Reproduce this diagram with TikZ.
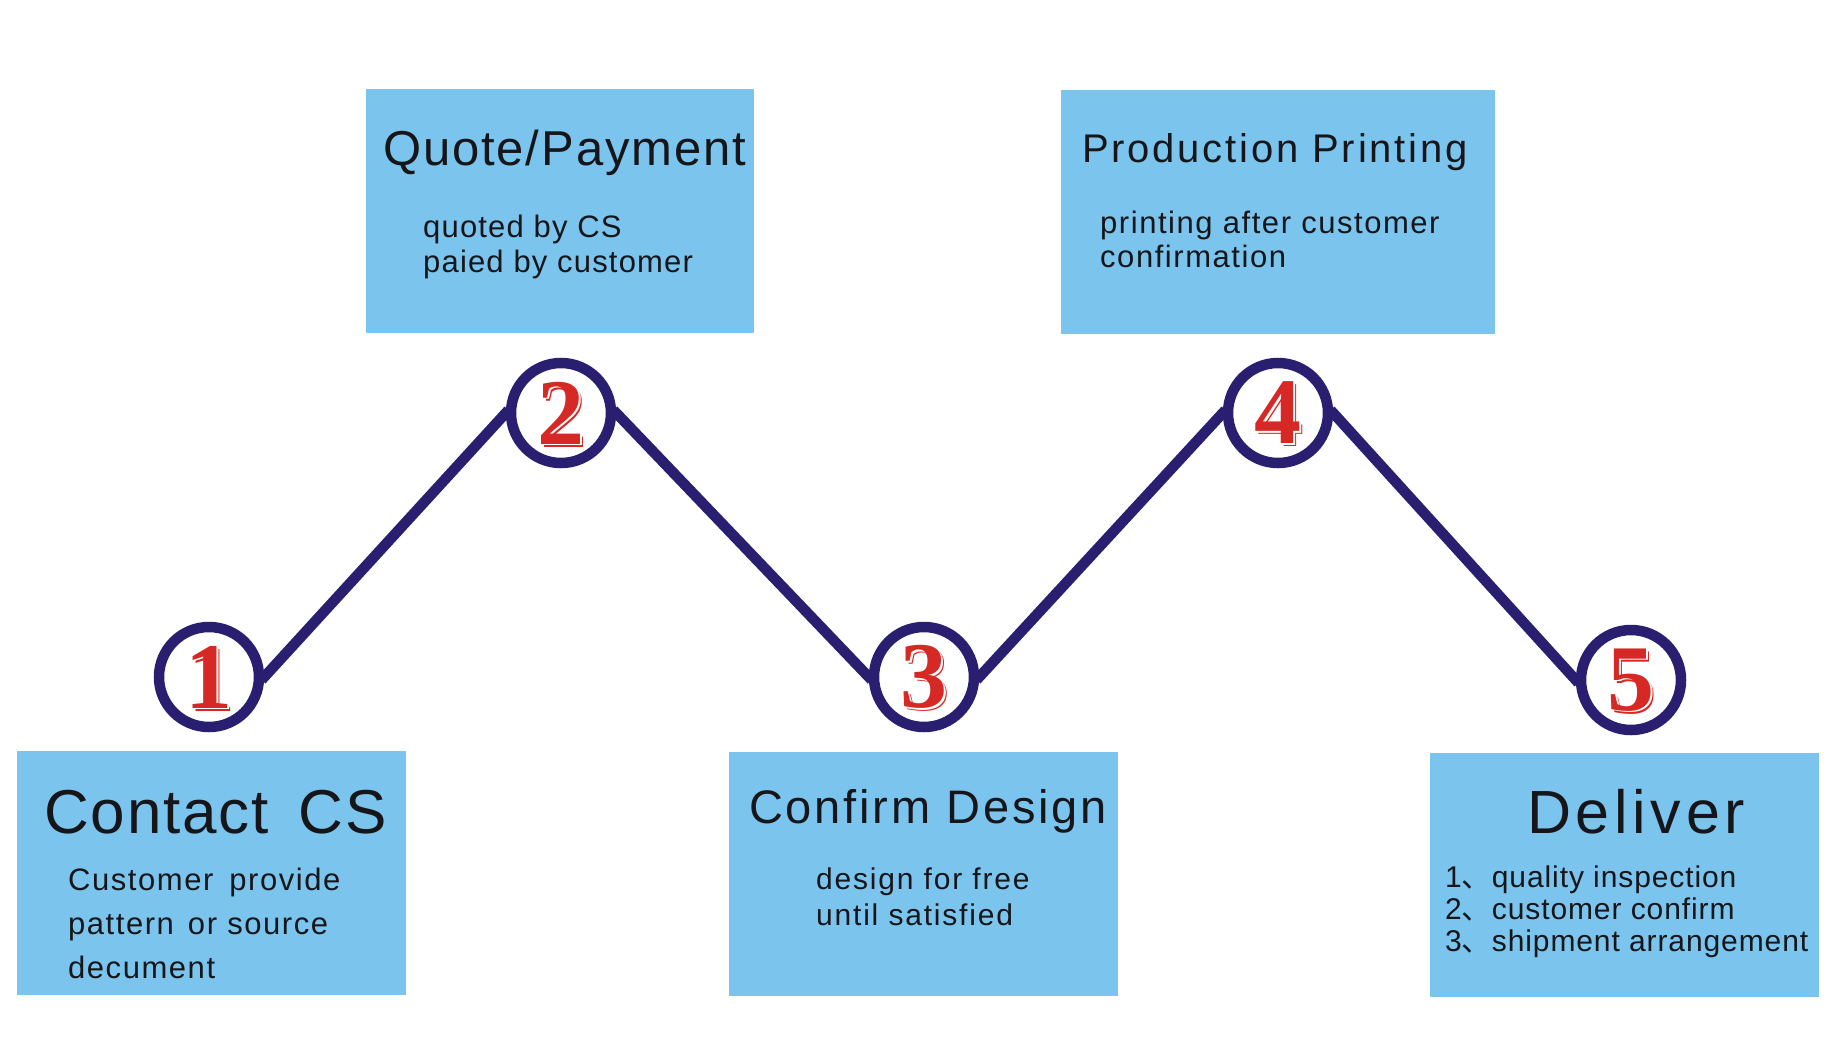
\documentclass[tikz,border=0pt]{standalone}
\usepackage{fontspec}
\setmainfont{Liberation Sans}
\newfontfamily\cjk{Noto Sans CJK SC}
\newfontfamily\digitfont{Liberation Serif}
\definecolor{boxblue}{RGB}{122,196,237}
\definecolor{navy}{RGB}{42,30,112}
\definecolor{digred}{RGB}{214,40,36}
\definecolor{txt}{RGB}{22,22,26}
\newcommand{\tsz}[2]{\fontsize{#1}{#1}\selectfont\addfontfeature{LetterSpace=#2}}
\begin{document}
\begin{tikzpicture}[x=1pt,y=-1pt,
  stepbox/.style={fill=boxblue, draw=none, anchor=north west, inner sep=0pt},
  ring/.style={circle, draw=navy, line width=10.5pt, fill=white, minimum size=100pt, inner sep=0pt},
  link/.style={draw=navy, line width=10.5pt, shorten <=-4pt, shorten >=-4pt},
  ttl/.style={anchor=base west, inner sep=0pt, text=txt},
  body/.style={anchor=base west, inner sep=0pt, text=txt},
]
\useasboundingbox (0,0) rectangle (1844,1044);
\fill[white] (0,0) rectangle (1844,1044);

% boxes
\node[stepbox, minimum width=389pt, minimum height=244pt] (b1) at (17,751) {};
\node[stepbox, minimum width=388pt, minimum height=244pt] (b2) at (366,89) {};
\node[stepbox, minimum width=389pt, minimum height=244pt] (b3) at (729,752) {};
\node[stepbox, minimum width=434pt, minimum height=244pt] (b4) at (1061,90) {};
\node[stepbox, minimum width=389pt, minimum height=244pt] (b5) at (1430,753) {};

% titles
\node[ttl] (t1) at (44,833) {\tsz{62}{3}Contact\hspace{30pt}CS};
\node[ttl] (t2) at (383,165) {\tsz{49}{3.8}Quote/Payment};
\node[ttl] (t3) at (749,823) {\tsz{47}{6}Confirm Design};
\node[ttl] (t4) at (1082,162) {\tsz{40}{7}Production Printing};
\node[ttl] (t5) at (1527,833) {\tsz{61}{7.7}Deliver};

% bodies
\node[body] (d1a) at (68,890) {\tsz{31}{5}Customer\hspace{16pt}provide};
\node[body] (d1b) at (68,934) {\tsz{31}{5}pattern\hspace{14pt}or source};
\node[body] (d1c) at (68,978) {\tsz{31}{5}decument};

\node[body] (d2a) at (423,237) {\tsz{31}{3.8}quoted by CS};
\node[body] (d2b) at (423,272) {\tsz{31}{3.8}paied by customer};

\node[body] (d3a) at (816,889) {\tsz{30}{6}design for free};
\node[body] (d3b) at (816,925) {\tsz{30}{6}until satisfied};

\node[body] (d4a) at (1100,233) {\tsz{31}{5}printing after customer};
\node[body] (d4b) at (1100,267) {\tsz{31}{5}confirmation};

\node[body] (d5a) at (1445,887) {\tsz{30}{3}1{\cjk 、}quality inspection};
\node[body] (d5b) at (1445,919) {\tsz{30}{3}2{\cjk 、}customer confirm};
\node[body] (d5c) at (1445,951) {\tsz{30}{3}3{\cjk 、}shipment arrangement};

% circles
\node[ring] (c1) at (209,677) {};
\node[ring] (c2) at (561,413) {};
\node[ring] (c3) at (924,677) {};
\node[ring] (c4) at (1278,413) {};
\node[ring] (c5) at (1631,680) {};

\draw[link] (c1.east) -- (c2.west);
\draw[link] (c2.east) -- (c3.west);
\draw[link] (c3.east) -- (c4.west);
\draw[link] (c4.east) -- (c5.west);

% digits
\foreach \n/\lab in {c1/1,c2/2,c3/3,c4/4,c5/5}{
  \node[text=digred, inner sep=0pt] at ([shift={(3,3)}]\n.center) {\digitfont\bfseries\fontsize{94}{94}\selectfont\lab};
  \node[text=white, inner sep=0pt] at ([shift={(1.5,1.5)}]\n.center) {\digitfont\bfseries\fontsize{94}{94}\selectfont\lab};
  \node[text=digred, inner sep=0pt] (n\lab) at (\n.center) {\digitfont\bfseries\fontsize{94}{94}\selectfont\lab};
}
\end{tikzpicture}
\end{document}
